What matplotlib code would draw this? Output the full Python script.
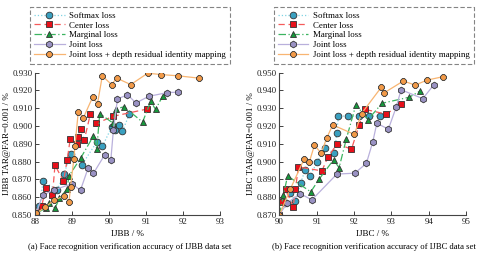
import numpy as np
import matplotlib
matplotlib.use('Agg')
import matplotlib.pyplot as plt

plt.rcParams['font.family'] = ['Liberation Serif', 'DejaVu Serif']
plt.rcParams['font.size'] = 6

# ---------------- IJBB (left) ----------------
bb_soft_x = [88.03, 88.12, 88.22, 88.60, 88.78, 88.97, 89.26, 89.67, 89.82, 90.07, 90.16, 90.27, 90.36, 90.55]
bb_soft_y = [0.851, 0.855, 0.869, 0.864, 0.873, 0.8845, 0.878, 0.891, 0.8885, 0.8993, 0.8978, 0.9006, 0.897, 0.9065]

bb_center_x = [88.03, 88.18, 88.29, 88.47, 88.54, 88.77, 88.87, 88.95, 89.13, 89.17, 89.24, 89.33, 89.50, 89.66, 90.12, 91.02]
bb_center_y = [0.851, 0.855, 0.865, 0.861, 0.878, 0.869, 0.881, 0.8925, 0.890, 0.894, 0.8985, 0.892, 0.907, 0.9015, 0.9055, 0.9095]

bb_marg_x = [88.03, 88.29, 88.39, 88.54, 88.66, 88.86, 88.92, 89.24, 89.58, 89.67, 89.75, 90.10, 90.19, 90.41, 90.91, 91.13, 91.26, 91.45]
bb_marg_y = [0.851, 0.8538, 0.857, 0.8538, 0.8594, 0.8644, 0.872, 0.8822, 0.8944, 0.887, 0.907, 0.9018, 0.9097, 0.9108, 0.9022, 0.9139, 0.9093, 0.9167]

bb_joint_x = [88.03, 88.21, 88.50, 88.99, 89.23, 89.44, 89.58, 89.89, 90.05, 90.12, 90.23, 90.50, 90.73, 91.08, 91.58, 91.87]
bb_joint_y = [0.851, 0.8612, 0.864, 0.8675, 0.864, 0.8766, 0.8734, 0.884, 0.8808, 0.8978, 0.9152, 0.9176, 0.913, 0.9167, 0.9188, 0.919]

bb_res_x = [88.03, 88.27, 88.52, 88.79, 88.92, 88.96, 89.05, 89.08, 89.17, 89.31, 89.56, 89.69, 89.82, 90.07, 90.21, 90.59, 91.05, 91.42, 91.88, 92.44]
bb_res_y = [0.851, 0.8543, 0.8584, 0.8607, 0.8575, 0.8659, 0.8813, 0.8888, 0.908, 0.9047, 0.9163, 0.9126, 0.9282, 0.9233, 0.9269, 0.9233, 0.9297, 0.9289, 0.9282, 0.9269]

# ---------------- IJBC (right) ----------------
bc_soft_x = [90.00, 90.15, 90.29, 90.42, 90.57, 90.69, 90.82, 91.02, 91.21, 91.47, 91.54, 91.58, 91.85, 92.12, 92.39, 92.70]
bc_soft_y = [0.870, 0.877, 0.8825, 0.878, 0.888, 0.8953, 0.892, 0.900, 0.9078, 0.9047, 0.916, 0.9256, 0.9256, 0.9256, 0.9256, 0.9256]

bc_center_x = [90.00, 90.06, 90.17, 90.37, 90.43, 90.51, 91.14, 91.30, 91.55, 91.93, 92.14, 92.28, 92.86, 93.26]
bc_center_y = [0.870, 0.8775, 0.8845, 0.8745, 0.8845, 0.897, 0.8948, 0.9026, 0.910, 0.907, 0.9206, 0.9294, 0.9267, 0.9322]

bc_marg_x = [90.00, 90.11, 90.22, 90.84, 91.06, 91.45, 91.60, 91.79, 92.05, 92.37, 92.75, 93.48, 93.77]
bc_marg_y = [0.870, 0.8812, 0.892, 0.883, 0.890, 0.901, 0.8966, 0.9125, 0.932, 0.9235, 0.9328, 0.9362, 0.9397]

bc_joint_x = [90.00, 90.20, 90.56, 90.87, 91.54, 92.02, 92.33, 92.50, 92.61, 92.92, 93.13, 93.26, 93.84, 94.13]
bc_joint_y = [0.870, 0.8766, 0.882, 0.8785, 0.893, 0.8935, 0.899, 0.911, 0.9215, 0.9183, 0.9307, 0.9404, 0.9354, 0.943]

bc_res_x = [90.00, 90.29, 90.66, 90.80, 90.94, 91.12, 91.27, 91.43, 92.01, 92.20, 92.73, 92.81, 93.32, 93.64, 93.95, 94.38]
bc_res_y = [0.870, 0.8844, 0.9013, 0.8996, 0.9093, 0.9047, 0.9134, 0.9206, 0.9153, 0.927, 0.9418, 0.9387, 0.9453, 0.943, 0.9458, 0.9477]

labels = ['Softmax loss', 'Center loss', 'Marginal loss', 'Joint loss',
          'Joint loss + depth residual identity mapping']

styles = [
    dict(color='#7fd3e3', linestyle=':', marker='o', markerfacecolor='#3aa0c0'),
    dict(color='#f55a5a', linestyle=(0, (5, 3)), marker='s', markerfacecolor='#e8101a'),
    dict(color='#3cb460', linestyle=(0, (6, 2, 1, 2)), marker='^', markerfacecolor='#169a3c'),
    dict(color='#b9b0dc', linestyle='-', marker='h', markerfacecolor='#9a92c4'),
    dict(color='#f8b572', linestyle='-', marker='8', markerfacecolor='#f29a48'),
]

fig = plt.figure(figsize=(4.8, 2.54), dpi=100)
ax1 = fig.add_axes([0.073, 0.1535, 0.385, 0.5605])
ax2 = fig.add_axes([0.582, 0.1535, 0.389, 0.5605])

panels = [
    (ax1, [(bb_soft_x, bb_soft_y), (bb_center_x, bb_center_y), (bb_marg_x, bb_marg_y),
           (bb_joint_x, bb_joint_y), (bb_res_x, bb_res_y)],
     (88, 93), (0.850, 0.930), 'IJBB / %', 'IJBB TAR@FAR=0.001 / %',
     '(a) Face recognition verification accuracy of IJBB data set', 0.271),
    (ax2, [(bc_soft_x, bc_soft_y), (bc_center_x, bc_center_y), (bc_marg_x, bc_marg_y),
           (bc_joint_x, bc_joint_y), (bc_res_x, bc_res_y)],
     (90, 95), (0.870, 0.950), 'IJBC / %', 'IJBC TAR@FAR=0.001 / %',
     '(b) Face recognition verification accuracy of IJBC data set', 0.779),
]

for ax, series, xl, yl, xlab, ylab, cap, cx in panels:
    for (x, y), st, lab in zip(series, styles, labels):
        ax.plot(x, y, linewidth=0.9, markersize=4.8, markeredgecolor='#333333',
                markeredgewidth=0.6, label=lab, **st)
    ax.set_xlim(*xl)
    ax.set_ylim(*yl)
    ax.set_xticks(np.arange(xl[0], xl[1] + 1, 1))
    ax.set_yticks(np.arange(yl[0], yl[1] + 0.005, 0.01))
    ax.yaxis.set_major_formatter(matplotlib.ticker.FormatStrFormatter('%.3f'))
    ax.spines['top'].set_visible(False)
    ax.spines['right'].set_visible(False)
    ax.spines['left'].set_color('#444444')
    ax.spines['bottom'].set_color('#444444')
    ax.tick_params(direction='in', length=3, width=0.6, labelsize=6.5, pad=2,
                   colors='#222222')
    ax.set_xlabel(xlab, fontsize=6.5, labelpad=3)
    ax.set_ylabel(ylab, fontsize=6.5, labelpad=1)
    leg = ax.legend(loc='upper center', bbox_to_anchor=(cx, 0.972),
                    bbox_transform=fig.transFigure, fontsize=6.4, frameon=True,
                    fancybox=False, edgecolor='#666666', handlelength=3.4,
                    handletextpad=0.5, labelspacing=0.18, borderpad=0.5,
                    borderaxespad=0)
    leg.get_frame().set_linestyle((0, (4, 2)))
    leg.get_frame().set_linewidth(0.8)
    fig.text(cx, 0.028, cap, ha='center', va='center', fontsize=6.2)

plt.savefig('out.png', dpi=100)
